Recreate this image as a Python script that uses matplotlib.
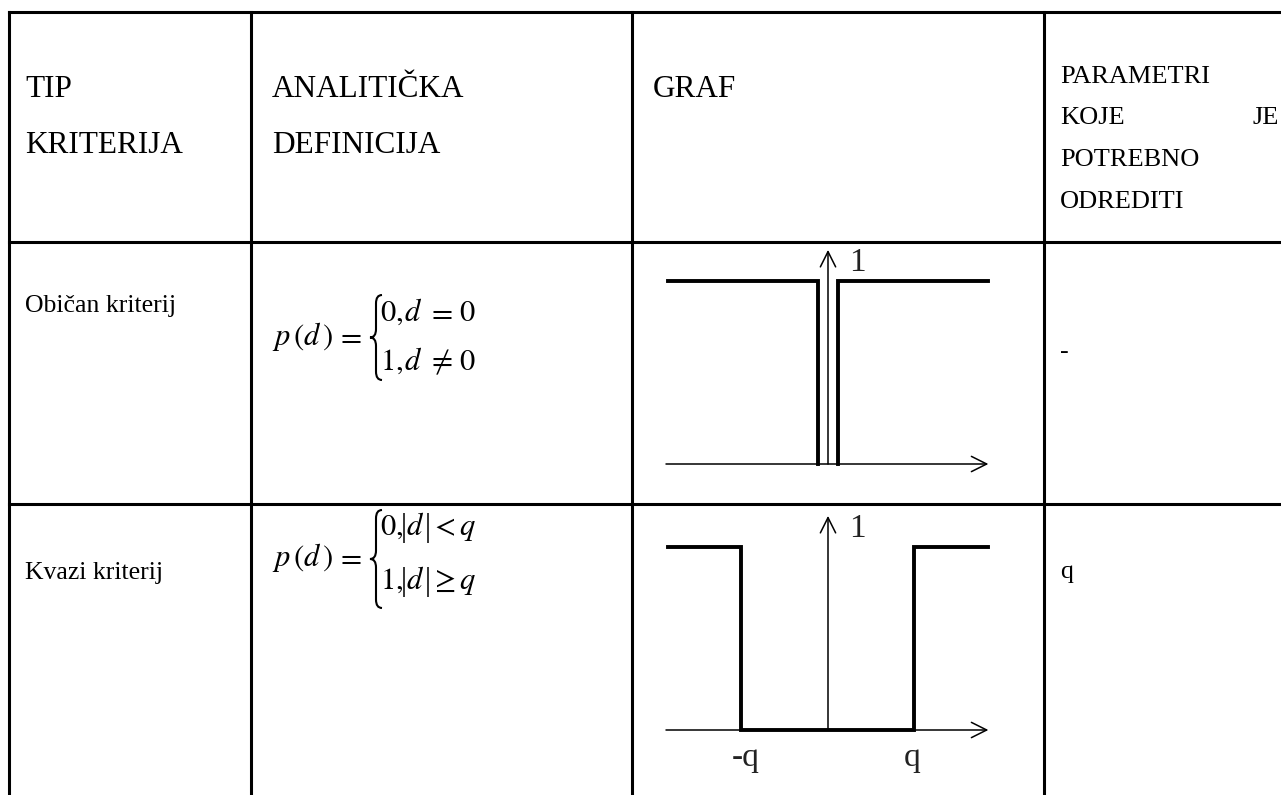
import matplotlib
matplotlib.use("Agg")
import matplotlib.pyplot as plt
from matplotlib.path import Path
from matplotlib.patches import PathPatch

plt.rcParams["font.family"] = ["Liberation Serif", "DejaVu Serif"]
plt.rcParams["mathtext.fontset"] = "stix"

W, H = 1281, 795

# ---------------------------------------------------------------------------
# table content
# ---------------------------------------------------------------------------
header_tip = ["TIP", "KRITERIJA"]
header_def = ["ANALITIČKA", "DEFINICIJA"]
header_graf = ["GRAF"]
header_par = ["PARAMETRI", "KOJE", "POTREBNO", "ODREDITI"]
row_names = ["Običan kriterij", "Kvazi kriterij"]
params = ["-", "q"]
# cases of p(d): (value, variable, relation, bound), |d| gets drawn bars
cases = [
    [("0,", "d", "=", "0"), ("1,", "d", r"\neq", "0")],
    [("0,", "d", "<", "q"), ("1,", "d", r"\geq", "q")],
]
abs_bars = [False, True]

# step functions (x in half-widths of the graph, y: 0 / 1)
obican_left_x = [-0.99, -0.06, -0.06]
obican_left_y = [1, 1, 0]
obican_right_x = [0.06, 0.06, 0.99]
obican_right_y = [0, 1, 1]
kvazi_x = [-0.99, -0.54, -0.54, 0.53, 0.53, 0.99]
kvazi_y = [1, 1, 0, 0, 1, 1]
kvazi_ticks = [-0.51, 0.52]
kvazi_ticklabels = ["-q", "q"]

# layout (pixels)
col_x = [9, 251, 632, 1044]
row_y = [12, 242, 504]

fig = plt.figure(figsize=(W / 100, H / 100), dpi=100)
ax = fig.add_axes([0, 0, 1, 1])
ax.set_xlim(0, W)
ax.set_ylim(H, 0)
ax.axis("off")

# grid lines
hl = ax.hlines(row_y, col_x[0], W, color="black", lw=2.2)
vl = ax.vlines(col_x, row_y[0], H, color="black", lw=2.2)
hl.set_capstyle("projecting")
vl.set_capstyle("projecting")

# header
hfs = 22.5
for i, s in enumerate(header_tip):
    ax.text(25, 97 + 56 * i, s, fontsize=hfs, va="baseline")
for i, s in enumerate(header_def):
    ax.text(272, 97 + 56 * i, s, fontsize=hfs, va="baseline")
ax.text(653, 97, header_graf[0], fontsize=hfs, va="baseline")
pfs = 19
for i, s in enumerate(header_par):
    ax.text(1060, 83 + 41.5 * i, s, fontsize=pfs, va="baseline")
ax.text(1279, 83 + 41.5, "JE", fontsize=pfs, va="baseline", ha="right")

# rows: name, parameter
name_base = [312, 579]
for i, s in enumerate(row_names):
    ax.text(25, name_base[i], s, fontsize=18.5, va="baseline")
ax.text(1060, 358, params[0], fontsize=18.5, va="baseline")
ax.text(1060, 578, params[1], fontsize=18.5, va="baseline")


def brace(ax, x, y0, y1, w, lw=1.5):
    ym = (y0 + y1) / 2
    xm = x + w * 0.5
    k = w * 0.7
    verts = [(x + w, y0), (xm, y0), (xm, y0 + k),
             (xm, ym - k),
             (xm, ym), (x, ym),
             (xm, ym), (xm, ym + k),
             (xm, y1 - k),
             (xm, y1), (x + w, y1)]
    codes = [Path.MOVETO, Path.CURVE3, Path.CURVE3,
             Path.LINETO,
             Path.CURVE3, Path.CURVE3,
             Path.CURVE3, Path.CURVE3,
             Path.LINETO,
             Path.CURVE3, Path.CURVE3]
    ax.add_patch(PathPatch(Path(verts, codes), fill=False, lw=lw, color="black"))


# formulas
ffs = 22
lhs_base = [345, 566]
line_base = [(321, 370), (535, 589)]
brace_span = [(295, 380), (510, 608)]
rel_x = [440, 443]
d_x = [404, 406]
piece_ha = ["left", "left", "center", "left"]
for i in range(2):
    ax.text(272, lhs_base[i], r"$p\,(d\,)$", fontsize=ffs, va="baseline")
    ax.text(349, lhs_base[i], r"$=$", fontsize=ffs, va="baseline", ha="center")
    brace(ax, 370, brace_span[i][0], brace_span[i][1], 12)
    piece_x = [380, d_x[i], rel_x[i], 459]
    for j, case in enumerate(cases[i]):
        b = line_base[i][j]
        for s, x, ha in zip(case, piece_x, piece_ha):
            ax.text(x, b, "$" + s + "$", fontsize=ffs, va="baseline", ha=ha)
        if abs_bars[i]:
            ax.vlines([404, 428], b - 22, b + 8, color="black", lw=1.1)


# ---------------------------------------------------------------------------
# graphs
# ---------------------------------------------------------------------------
UX, UY = 162, 183
XL, YL = (-1.05, 1.05), (-0.35, 1.3)


def graph_axes(ox, oy):
    left = ox + XL[0] * UX
    right = ox + XL[1] * UX
    top = oy - YL[1] * UY
    bottom = oy - YL[0] * UY
    g = fig.add_axes([left / W, 1 - bottom / H, (right - left) / W, (bottom - top) / H])
    g.set_xlim(*XL)
    g.set_ylim(*YL)
    g.axis("off")
    arrow = dict(arrowstyle="->,head_length=1.1,head_width=0.55", lw=1.1,
                 color="black", shrinkA=0, shrinkB=0)
    g.annotate("", xy=(0.99, 0), xytext=(-1.0, 0), arrowprops=arrow)
    g.annotate("", xy=(0, 1.17), xytext=(0, 0), arrowprops=arrow)
    g.text(0.18, 1.10, "1", fontsize=24, ha="center", va="center", color="#222222")
    return g


g1 = graph_axes(828, 464)
g1.plot(obican_left_x, obican_left_y, color="black", lw=2.8, solid_joinstyle="miter")
g1.plot(obican_right_x, obican_right_y, color="black", lw=2.8, solid_joinstyle="miter")

g2 = graph_axes(828, 730)
g2.plot(kvazi_x, kvazi_y, color="black", lw=2.8, solid_joinstyle="miter")
for xt, lab in zip(kvazi_ticks, kvazi_ticklabels):
    g2.text(xt, -0.15, lab, fontsize=24, ha="center", va="center", color="#222222")

fig.savefig("out.png", dpi=100)
